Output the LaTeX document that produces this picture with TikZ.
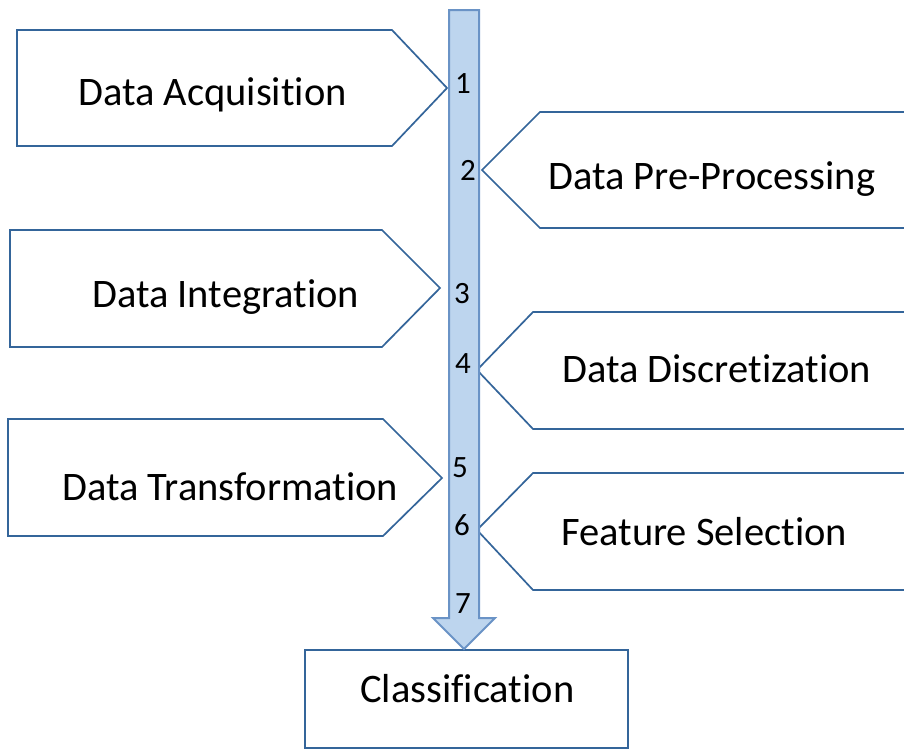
\documentclass[tikz,border=0pt]{standalone}
\usepackage{fontspec}
\setmainfont{Carlito}[RawFeature={-liga;-clig;-calt;-dlig}]
\definecolor{boxline}{HTML}{34659A}
\definecolor{barfill}{HTML}{BDD5EE}
\definecolor{barline}{HTML}{6A93C6}
\begin{document}
\begin{tikzpicture}[x=1pt,y=-1pt,
  stage/.style={draw=boxline,line width=1.7pt,fill=white,line join=miter},
  lbl/.style={inner sep=0pt,anchor=base west,font=\fontsize{40.5}{44}\selectfont,text=black},
  num/.style={inner sep=0pt,anchor=base,font=\fontsize{31}{34}\selectfont,text=black},
  bar/.style={draw=barline,line width=2pt,fill=barfill,line join=miter}]
\useasboundingbox (0,0) rectangle (904,750);
% left stages
\draw[stage] (17,30) -- (392,30) -- (447,88) -- (392,146) -- (17,146) -- cycle;
\draw[stage] (10,230) -- (382,230) -- (440,288) -- (382,347) -- (10,347) -- cycle;
\draw[stage] (8,419) -- (383,419) -- (442,478) -- (383,536) -- (8,536) -- cycle;
% right stages
\draw[stage] (915,112) -- (540,112) -- (482,170) -- (540,228) -- (915,228);
\draw[stage] (915,312) -- (533,312) -- (477,370) -- (533,429) -- (915,429);
\draw[stage] (915,473) -- (533,473) -- (477,530) -- (533,590) -- (915,590);
% classification
\draw[stage] (305,650) rectangle (628,748);
% bar arrow
\draw[bar] (449,10) -- (479,10) -- (479,618) -- (495,618) -- (464,649) -- (433,618) -- (449,618) -- cycle;
% labels
\node[lbl] (acq) at (78,105) {Data Acquisition};
\node[lbl] (pre) at (548,189) {Data Pre-Processing};
\node[lbl] (int) at (92,307) {Data Integration};
\node[lbl] (dis) at (562,382) {Data Discretization};
\node[lbl] (tra) at (62,500) {Data Transformation};
\node[lbl] (fea) at (561,545) {Feature Selection};
\node[lbl] (cla) at (360,702) {Classification};
% numbers
\node[num] (n1) at (463,93) {1};
\node[num] (n2) at (468,180) {2};
\node[num] (n3) at (462,303) {3};
\node[num] (n4) at (463,373) {4};
\node[num] (n5) at (460,477) {5};
\node[num] (n6) at (462,535) {6};
\node[num] (n7) at (463,613) {7};
\end{tikzpicture}
\end{document}
